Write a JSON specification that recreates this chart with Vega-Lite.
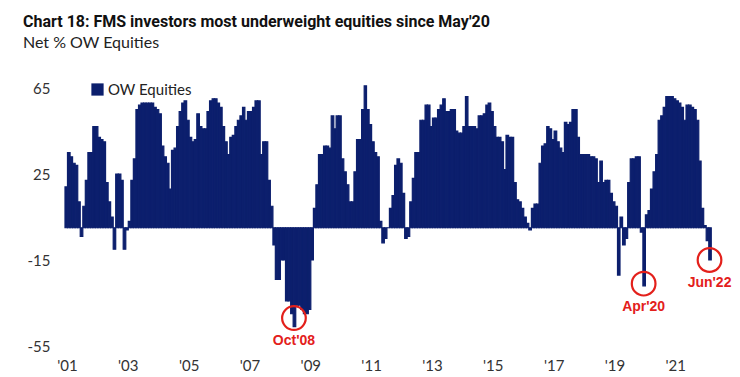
{
  "$schema": "https://vega.github.io/schema/vega-lite/v6.json",
  "width": 674,
  "height": 258,
  "autosize": {"type": "none"},
  "padding": {"left": 57, "top": 88, "right": 9, "bottom": 31},
  "background": "white",
  "config": {"view": {"stroke": null}},
  "title": {
    "text": "Chart 18: FMS investors most underweight equities since May'20",
    "subtitle": "Net % OW Equities",
    "anchor": "start",
    "frame": "group",
    "dx": -34,
    "offset": 30,
    "font": "Roboto",
    "fontSize": 16,
    "fontWeight": "bold",
    "color": "#111111",
    "subtitleFont": "Lato",
    "subtitleFontSize": 16,
    "subtitleColor": "#222222",
    "subtitlePadding": 5
  },
  "datasets": {
    "fms": [
      {"d":"2001-04-15","v":19},{"d":"2001-05-15","v":35},{"d":"2001-06-15","v":33},{"d":"2001-07-15","v":30},{"d":"2001-08-15","v":29},{"d":"2001-09-15","v":12},{"d":"2001-10-15","v":-4},{"d":"2001-11-15","v":10},{"d":"2001-12-15","v":22},
      {"d":"2002-01-15","v":35},{"d":"2002-02-15","v":35},{"d":"2002-03-15","v":47},{"d":"2002-04-15","v":47},{"d":"2002-05-15","v":42},{"d":"2002-06-15","v":41},{"d":"2002-07-15","v":40},{"d":"2002-08-15","v":21},{"d":"2002-09-15","v":12},{"d":"2002-10-15","v":5},{"d":"2002-11-15","v":-10},{"d":"2002-12-15","v":25},
      {"d":"2003-01-15","v":25},{"d":"2003-02-15","v":22},{"d":"2003-03-15","v":-10},{"d":"2003-04-15","v":-1},{"d":"2003-05-15","v":3},{"d":"2003-06-15","v":22},{"d":"2003-07-15","v":32},{"d":"2003-08-15","v":55},{"d":"2003-09-15","v":57},{"d":"2003-10-15","v":58},{"d":"2003-11-15","v":58},{"d":"2003-12-15","v":58},
      {"d":"2004-01-15","v":58},{"d":"2004-02-15","v":58},{"d":"2004-03-15","v":56},{"d":"2004-04-15","v":55},{"d":"2004-05-15","v":53},{"d":"2004-06-15","v":38},{"d":"2004-07-15","v":33},{"d":"2004-08-15","v":30},{"d":"2004-09-15","v":18},{"d":"2004-10-15","v":36},{"d":"2004-11-15","v":37},{"d":"2004-12-15","v":47},
      {"d":"2005-01-15","v":54},{"d":"2005-02-15","v":58},{"d":"2005-03-15","v":59},{"d":"2005-04-15","v":50},{"d":"2005-05-15","v":42},{"d":"2005-06-15","v":40},{"d":"2005-07-15","v":41},{"d":"2005-08-15","v":53},{"d":"2005-09-15","v":47},{"d":"2005-10-15","v":46},{"d":"2005-11-15","v":46},{"d":"2005-12-15","v":54},
      {"d":"2006-01-15","v":59},{"d":"2006-02-15","v":60},{"d":"2006-03-15","v":60},{"d":"2006-04-15","v":58},{"d":"2006-05-15","v":56},{"d":"2006-06-15","v":47},{"d":"2006-07-15","v":40},{"d":"2006-08-15","v":34},{"d":"2006-09-15","v":42},{"d":"2006-10-15","v":43},{"d":"2006-11-15","v":47},{"d":"2006-12-15","v":50},
      {"d":"2007-01-15","v":52},{"d":"2007-02-15","v":56},{"d":"2007-03-15","v":50},{"d":"2007-04-15","v":54},{"d":"2007-05-15","v":54},{"d":"2007-06-15","v":56},{"d":"2007-07-15","v":59},{"d":"2007-08-15","v":59},{"d":"2007-09-15","v":34},{"d":"2007-10-15","v":40},{"d":"2007-11-15","v":40},{"d":"2007-12-15","v":22},
      {"d":"2008-01-15","v":10},{"d":"2008-02-15","v":-8},{"d":"2008-03-15","v":-24},{"d":"2008-04-15","v":-24},{"d":"2008-05-15","v":-15},{"d":"2008-06-15","v":-15},{"d":"2008-07-15","v":-34},{"d":"2008-08-15","v":-34},{"d":"2008-09-15","v":-40},{"d":"2008-10-15","v":-46},{"d":"2008-11-15","v":-36},{"d":"2008-12-15","v":-36},
      {"d":"2009-01-15","v":-38},{"d":"2009-02-15","v":-40},{"d":"2009-03-15","v":-40},{"d":"2009-04-15","v":-38},{"d":"2009-05-15","v":-15},{"d":"2009-06-15","v":9},{"d":"2009-07-15","v":20},{"d":"2009-08-15","v":34},{"d":"2009-09-15","v":34},{"d":"2009-10-15","v":38},{"d":"2009-11-15","v":38},{"d":"2009-12-15","v":37},
      {"d":"2010-01-15","v":52},{"d":"2010-02-15","v":46},{"d":"2010-03-15","v":52},{"d":"2010-04-15","v":52},{"d":"2010-05-15","v":32},{"d":"2010-06-15","v":26},{"d":"2010-07-15","v":20},{"d":"2010-08-15","v":12},{"d":"2010-09-15","v":12},{"d":"2010-10-15","v":26},{"d":"2010-11-15","v":41},{"d":"2010-12-15","v":41},
      {"d":"2011-01-15","v":55},{"d":"2011-02-15","v":66},{"d":"2011-03-15","v":55},{"d":"2011-04-15","v":48},{"d":"2011-05-15","v":40},{"d":"2011-06-15","v":35},{"d":"2011-07-15","v":33},{"d":"2011-08-15","v":3},{"d":"2011-09-15","v":-7},{"d":"2011-10-15","v":-5},{"d":"2011-11-15","v":0},{"d":"2011-12-15","v":9},
      {"d":"2012-01-15","v":15},{"d":"2012-02-15","v":29},{"d":"2012-03-15","v":32},{"d":"2012-04-15","v":30},{"d":"2012-05-15","v":16},{"d":"2012-06-15","v":-5},{"d":"2012-07-15","v":-4},{"d":"2012-08-15","v":12},{"d":"2012-09-15","v":23},{"d":"2012-10-15","v":35},{"d":"2012-11-15","v":35},{"d":"2012-12-15","v":50},
      {"d":"2013-01-15","v":50},{"d":"2013-02-15","v":57},{"d":"2013-03-15","v":57},{"d":"2013-04-15","v":47},{"d":"2013-05-15","v":51},{"d":"2013-06-15","v":51},{"d":"2013-07-15","v":55},{"d":"2013-08-15","v":57},{"d":"2013-09-15","v":60},{"d":"2013-10-15","v":54},{"d":"2013-11-15","v":54},{"d":"2013-12-15","v":55},
      {"d":"2014-01-15","v":55},{"d":"2014-02-15","v":45},{"d":"2014-03-15","v":44},{"d":"2014-04-15","v":44},{"d":"2014-05-15","v":47},{"d":"2014-06-15","v":61},{"d":"2014-07-15","v":47},{"d":"2014-08-15","v":47},{"d":"2014-09-15","v":47},{"d":"2014-10-15","v":46},{"d":"2014-11-15","v":52},{"d":"2014-12-15","v":52},
      {"d":"2015-01-15","v":53},{"d":"2015-02-15","v":57},{"d":"2015-03-15","v":58},{"d":"2015-04-15","v":54},{"d":"2015-05-15","v":47},{"d":"2015-06-15","v":42},{"d":"2015-07-15","v":42},{"d":"2015-08-15","v":40},{"d":"2015-09-15","v":27},{"d":"2015-10-15","v":43},{"d":"2015-11-15","v":42},{"d":"2015-12-15","v":42},
      {"d":"2016-01-15","v":21},{"d":"2016-02-15","v":13},{"d":"2016-03-15","v":12},{"d":"2016-04-15","v":9},{"d":"2016-05-15","v":5},{"d":"2016-06-15","v":2},{"d":"2016-07-15","v":-1},{"d":"2016-08-15","v":9},{"d":"2016-09-15","v":11},{"d":"2016-10-15","v":11},{"d":"2016-11-15","v":30},{"d":"2016-12-15","v":38},
      {"d":"2017-01-15","v":39},{"d":"2017-02-15","v":47},{"d":"2017-03-15","v":46},{"d":"2017-04-15","v":41},{"d":"2017-05-15","v":45},{"d":"2017-06-15","v":40},{"d":"2017-07-15","v":37},{"d":"2017-08-15","v":35},{"d":"2017-09-15","v":49},{"d":"2017-10-15","v":48},{"d":"2017-11-15","v":49},{"d":"2017-12-15","v":55},
      {"d":"2018-01-15","v":55},{"d":"2018-02-15","v":42},{"d":"2018-03-15","v":34},{"d":"2018-04-15","v":34},{"d":"2018-05-15","v":34},{"d":"2018-06-15","v":34},{"d":"2018-07-15","v":33},{"d":"2018-08-15","v":33},{"d":"2018-09-15","v":32},{"d":"2018-10-15","v":21},{"d":"2018-11-15","v":31},{"d":"2018-12-15","v":21},
      {"d":"2019-01-15","v":22},{"d":"2019-02-15","v":22},{"d":"2019-03-15","v":16},{"d":"2019-04-15","v":12},{"d":"2019-05-15","v":10},{"d":"2019-06-15","v":-22},{"d":"2019-07-15","v":5},{"d":"2019-08-15","v":-8},{"d":"2019-09-15","v":-5},{"d":"2019-10-15","v":21},{"d":"2019-11-15","v":32},{"d":"2019-12-15","v":32},
      {"d":"2020-01-15","v":33},{"d":"2020-02-15","v":33},{"d":"2020-03-15","v":-2},{"d":"2020-04-15","v":-27},{"d":"2020-05-15","v":6},{"d":"2020-06-15","v":8},{"d":"2020-07-15","v":18},{"d":"2020-08-15","v":26},{"d":"2020-09-15","v":34},{"d":"2020-10-15","v":50},{"d":"2020-11-15","v":52},{"d":"2020-12-15","v":56},
      {"d":"2021-01-15","v":61},{"d":"2021-02-15","v":61},{"d":"2021-03-15","v":61},{"d":"2021-04-15","v":60},{"d":"2021-05-15","v":59},{"d":"2021-06-15","v":58},{"d":"2021-07-15","v":56},{"d":"2021-08-15","v":50},{"d":"2021-09-15","v":57},{"d":"2021-10-15","v":57},{"d":"2021-11-15","v":56},{"d":"2021-12-15","v":55},
      {"d":"2022-01-15","v":50},{"d":"2022-02-15","v":31},{"d":"2022-03-15","v":9},{"d":"2022-04-15","v":1},{"d":"2022-05-15","v":-6},{"d":"2022-06-15","v":-15}
    ],
    "notes": [
      {"d":"2008-10-15","v":-42,"t":"Oct'08"},
      {"d":"2020-04-15","v":-26,"t":"Apr'20"},
      {"d":"2022-06-15","v":-15,"t":"Jun'22"}
    ]
  },
  "layer": [
    {
      "data": {"name": "fms"},
      "mark": {"type": "bar", "binSpacing": 0, "stroke": "#0c1f6d", "strokeWidth": 1.2},
      "encoding": {
        "x": {
          "field": "d", "type": "temporal", "timeUnit": "yearmonth",
          "scale": {"domain": [{"year": 2001, "month": 1, "date": 1}, {"year": 2023, "month": 3, "date": 1}]},
          "axis": {
            "values": [
              {"year": 2001, "month": 5, "date": 1}, {"year": 2003, "month": 5, "date": 1}, {"year": 2005, "month": 5, "date": 1},
              {"year": 2007, "month": 5, "date": 1}, {"year": 2009, "month": 5, "date": 1}, {"year": 2011, "month": 5, "date": 1},
              {"year": 2013, "month": 5, "date": 1}, {"year": 2015, "month": 5, "date": 1}, {"year": 2017, "month": 5, "date": 1},
              {"year": 2019, "month": 5, "date": 1}, {"year": 2021, "month": 5, "date": 1}
            ],
            "format": "'%y",
            "title": null, "domain": false, "ticks": false, "grid": false,
            "labelFont": "Lato", "labelFontSize": 15, "labelColor": "#333333", "labelPadding": 12
          }
        },
        "y": {
          "field": "v", "type": "quantitative",
          "scale": {"domain": [-55, 65], "nice": false, "zero": false},
          "axis": {
            "values": [-55, -15, 25, 65],
            "labelExpr": "'' + datum.value",
            "title": null, "domain": false, "ticks": false, "grid": false,
            "labelFont": "Lato", "labelFontSize": 15, "labelColor": "#333333", "labelPadding": 7
          }
        },
        "color": {
          "datum": "OW Equities",
          "scale": {"range": ["#0c1f6d"]},
          "legend": {
            "orient": "none", "legendX": 33, "legendY": -6, "title": null, "padding": 0,
            "symbolType": "square", "symbolSize": 150, "symbolStrokeWidth": 0,
            "labelFont": "Lato", "labelFontSize": 15, "labelColor": "#222222", "labelOffset": 3
          }
        }
      }
    },
    {
      "mark": {"type": "rule", "color": "#111111", "strokeWidth": 2},
      "encoding": {"y": {"datum": 0}}
    },
    {
      "data": {"name": "notes"},
      "mark": {"type": "point", "shape": "circle", "size": 560, "filled": false, "stroke": "#e3201b", "strokeWidth": 2.2, "opacity": 1},
      "encoding": {
        "x": {"field": "d", "type": "temporal", "timeUnit": "yearmonth", "bandPosition": 0.5},
        "y": {"field": "v", "type": "quantitative"}
      }
    },
    {
      "data": {"name": "notes"},
      "mark": {"type": "text", "dy": 23, "font": "Liberation Sans", "fontWeight": "bold", "fontSize": 14, "color": "#e3201b"},
      "encoding": {
        "x": {"field": "d", "type": "temporal", "timeUnit": "yearmonth", "bandPosition": 0.5},
        "y": {"field": "v", "type": "quantitative"},
        "text": {"field": "t"}
      }
    }
  ]
}
